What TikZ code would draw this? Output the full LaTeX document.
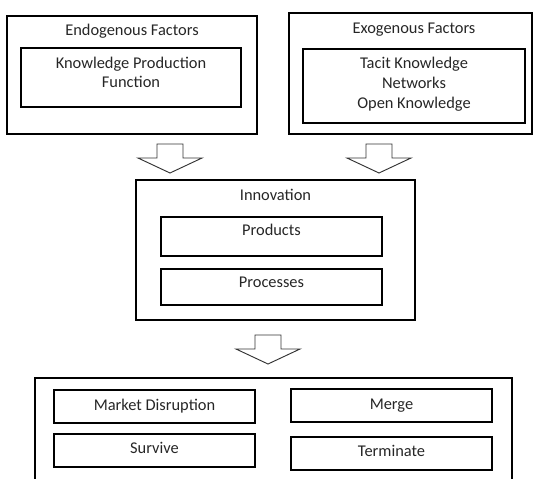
\documentclass[tikz,border=0pt]{standalone}
\usepackage{fontspec}
\setmainfont{Carlito}
\usetikzlibrary{fit}

\begin{document}
\begin{tikzpicture}[x=0.03cm, y=-0.03cm,
    box/.style={draw, line width=0.9pt, inner sep=0pt},
    txt/.style={anchor=base, inner sep=0pt, align=center, text=black!85,
        font=\fontsize{14}{17}\selectfont},
    blockdown/.pic={
        \draw[line width=0.8pt, black!80] (-13,0) -- (13,0) -- (13,14) -- (32,14)
            -- (0,29) -- (-32,14) -- (-13,14) -- cycle;
    }]
    \useasboundingbox (0,0) rectangle (534,479);

    % Endogenous factors (top left)
    \node[box, fit={(7,16) (257,134)}] (endo) {};
    \node[txt] (endot) at (132,35.5) {Endogenous Factors};
    \node[box, fit={(21,48) (241,107)}] (kpf) {};
    \node[txt] (kpft) at (131,88) {Knowledge Production\\Function};

    % Exogenous factors (top right)
    \node[box, fit={(289,13) (532,134)}] (exo) {};
    \node[txt] (exot) at (414,33.5) {Exogenous Factors};
    \node[box, fit={(303,49) (525,123)}] (tacit) {};
    \node[txt] (tacitt) at (414,108.5) {Tacit Knowledge\\Networks\\Open Knowledge};

    % Arrows into innovation
    \pic at (170,144) {blockdown};
    \pic at (379,144) {blockdown};

    % Innovation
    \node[box, fit={(136,180) (415,320)}] (innov) {};
    \node[txt] (innovt) at (275.5,200) {Innovation};
    \node[box, fit={(161,217) (382,256)}] (prod) {};
    \node[txt] (prodt) at (271.5,235.5) {Products};
    \node[box, fit={(161,269) (382,305)}] (proc) {};
    \node[txt] (proct) at (271.5,287.5) {Processes};

    % Arrow into outcomes
    \pic at (268,335) {blockdown};

    % Outcomes (cut off at the bottom)
    \draw[line width=0.9pt] (35,479) -- (35,378) -- (512,378) -- (512,479);
    \node[box, fit={(54,390) (255,423)}] (disrupt) {};
    \node[txt] (disruptt) at (154.5,410) {Market Disruption};
    \node[box, fit={(54,434) (255,467)}] (survive) {};
    \node[txt] (survivet) at (154.5,453.5) {Survive};
    \node[box, fit={(291,389) (492,422)}] (merge) {};
    \node[txt] (merget) at (391.5,409) {Merge};
    \node[box, fit={(291,437) (492,470)}] (term) {};
    \node[txt] (termt) at (391.5,456.5) {Terminate};
\end{tikzpicture}
\end{document}
